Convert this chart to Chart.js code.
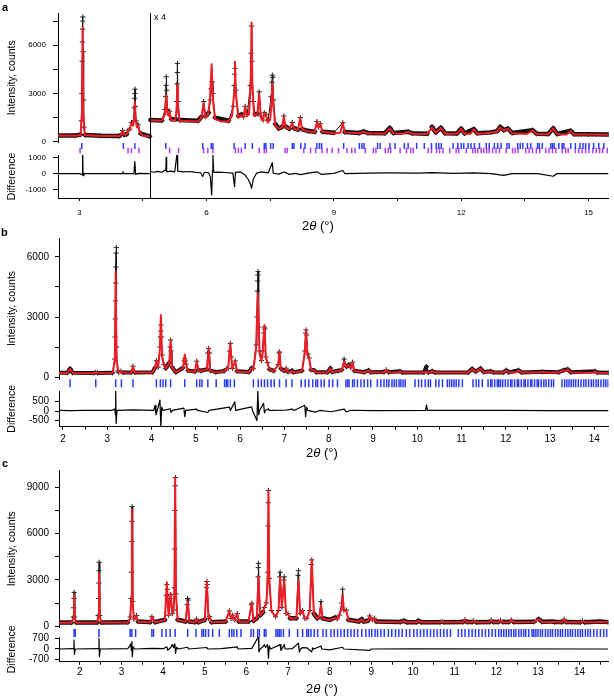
<!DOCTYPE html>
<html>
<head>
<meta charset="utf-8">
<script src="https://cdn.jsdelivr.net/npm/chart.js"></script>
<style>
  html, body { margin: 0; padding: 0; background: #fff; }
  body { width: 614px; height: 697px; position: relative; overflow: hidden;
         font-family: "Liberation Sans", Arial, Helvetica, sans-serif; color: #000; }
  .pane { position: absolute; left: 0; width: 614px; }
  .tag { position: absolute; font-weight: bold; font-size: 11px; line-height: 11px; }
  .note { position: absolute; font-size: 9px; line-height: 9px; }
  .xt { position: absolute; font-size: 13px; line-height: 14px; white-space: nowrap; transform: translateX(-50%); }
</style>
</head>
<body>
<div class="pane" style="top:0;height:240px"><canvas id="chartA"></canvas></div>
<div class="pane" style="top:228px;height:240px"><canvas id="chartB"></canvas></div>
<div class="pane" style="top:460px;height:237px"><canvas id="chartC"></canvas></div>

<div class="tag" style="left:2px;top:2px">a</div>
<div class="tag" style="left:1px;top:227px">b</div>
<div class="tag" style="left:2px;top:458px">c</div>
<div class="note" style="left:154px;top:13px">x 4</div>
<div class="xt" style="left:318px;top:219px">2<i>θ</i> (°)</div>
<div class="xt" style="left:322px;top:446px">2<i>θ</i> (°)</div>
<div class="xt" style="left:322px;top:682px">2<i>θ</i> (°)</div>

<script>
/* ---------- Panel a (right of A_SPLIT the profile is shown x4) ---------- */
const A_SPLIT = 4.67;
const A_CALC = [
  [2.50,380],[2.90,372],[3.03,420],[3.065,1800],[3.08,7080],[3.095,1800],[3.13,410],[3.50,360],[3.95,350],
  [3.99,480],[4.02,660],[4.05,430],[4.12,460],[4.15,700],[4.19,760],[4.23,1160],[4.27,1000],[4.295,1500],
  [4.31,2480],[4.325,1400],[4.36,900],[4.39,1000],[4.42,600],[4.50,380],[4.66,320],[4.67,null],
  [4.68,1340],[4.95,1300],[5.02,1700],[5.05,2900],[5.08,1700],[5.11,1600],[5.13,1860],[5.16,1340],[5.26,1320],
  [5.295,2000],[5.31,3520],[5.325,2000],[5.37,1300],[5.80,1260],[5.88,1500],[5.93,2400],[5.97,1500],[6.03,1600],
  [6.08,2600],[6.12,4810],[6.15,2600],[6.20,1400],[6.35,1250],[6.52,1250],[6.60,1600],[6.65,3000],[6.67,4970],
  [6.69,3000],[6.75,1500],[6.82,1650],[6.87,1500],[6.91,2170],[6.95,1600],[7.00,1700],[7.04,3500],[7.06,7420],
  [7.08,3500],[7.12,1600],[7.20,1700],[7.24,3000],[7.28,1500],[7.33,1300],[7.36,1780],[7.40,1660],[7.44,1200],
  [7.50,1400],[7.53,2400],[7.55,3630],[7.57,2400],[7.62,1000],[7.70,800],[7.78,900],[7.82,1550],[7.86,900],
  [7.95,780],[8.02,1140],[8.06,820],[8.15,720],[8.21,1460],[8.25,760],[8.40,640],[8.55,600],[8.60,1240],
  [8.64,900],[8.68,1100],[8.73,600],[9.00,540],[9.15,560],[9.21,1140],[9.26,580],[9.60,520],[9.70,620],
  [9.80,520],[10.20,500],[10.32,830],[10.40,520],[10.60,500],[10.75,600],[10.85,500],[11.20,480],[11.31,890],
  [11.40,560],[11.52,860],[11.62,500],[11.90,490],[12.00,800],[12.08,500],[12.22,500],[12.30,760],[12.38,500],
  [12.55,520],[12.70,560],[12.85,640],[12.92,890],[13.00,700],[13.10,800],[13.20,520],[13.55,480],[13.68,700],
  [13.78,470],[14.05,460],[14.17,830],[14.26,460],[14.48,450],[14.58,660],[14.66,450],[15.00,440],[15.47,430]
];
const A_OBS = [
  [2.50,390],[2.90,380],[3.03,440],[3.05,1300],[3.06,3000],[3.07,5000],[3.075,6200],[3.08,7000],[3.083,7500],
  [3.086,7760],[3.09,5600],[3.10,2600],[3.11,900],[3.14,420],[3.50,370],[3.95,360],[3.99,490],[4.02,700],[4.06,430],
  [4.12,470],[4.15,720],[4.19,780],[4.23,1200],[4.28,1300],[4.295,2100],[4.305,2700],[4.31,3000],[4.315,3270],
  [4.325,2200],[4.34,1300],[4.39,1050],[4.45,500],[4.66,330],[4.67,null],
  [4.68,1350],[4.95,1320],[5.02,2000],[5.035,2800],[5.045,3500],[5.05,4040],[5.06,3200],[5.08,2000],[5.13,1900],
  [5.17,1400],[5.28,1400],[5.295,2500],[5.305,3600],[5.31,4300],[5.315,4870],[5.33,2500],[5.37,1350],[5.80,1300],
  [5.88,1550],[5.93,2500],[5.98,1600],[6.05,1800],[6.09,2600],[6.11,3300],[6.13,3730],[6.15,3000],[6.20,1500],
  [6.52,1300],[6.63,2200],[6.65,3500],[6.66,4200],[6.67,4560],[6.69,3200],[6.75,1600],[6.82,1700],[6.87,1550],
  [6.91,2200],[6.96,1700],[7.03,3500],[7.05,5500],[7.06,7200],[7.07,5000],[7.10,2500],[7.14,1700],[7.20,1750],
  [7.24,3100],[7.28,1600],[7.33,1350],[7.36,1800],[7.40,1700],[7.45,1300],[7.52,2800],[7.54,3700],[7.55,4140],
  [7.56,4000],[7.58,2600],[7.62,1100],[7.70,820],[7.78,920],[7.82,1600],[7.86,950],[7.95,800],[8.02,1200],
  [8.06,840],[8.15,750],[8.21,1500],[8.25,780],[8.40,660],[8.55,620],[8.60,1260],[8.64,920],[8.68,1120],
  [8.73,620],[9.00,560],[9.21,1180],[9.26,600],[9.60,540],[9.70,640],[9.80,540],[10.20,520],[10.32,860],
  [10.40,540],[10.75,620],[10.85,520],[11.20,500],[11.31,920],[11.40,580],[11.52,880],[11.62,520],[11.90,510],
  [12.00,820],[12.08,520],[12.30,780],[12.38,520],[12.70,580],[12.85,660],[12.92,920],[13.00,720],[13.10,820],
  [13.20,540],[13.68,720],[13.78,490],[14.05,480],[14.17,840],[14.26,480],[14.58,680],[14.66,470],[15.00,460],
  [15.47,450]
];
const A_DIFF = [
  [2.50,0],[3.00,10],[3.07,-60],[3.08,1700],[3.09,-120],[3.11,0],[3.80,10],[4.01,0],[4.03,130],[4.05,0],
  [4.29,0],[4.31,760],[4.33,-40],[4.40,20],[4.66,0],[4.67,null],
  [4.68,140],[4.75,90],[4.85,150],[4.95,90],[5.04,250],[5.05,1030],[5.06,120],[5.15,160],[5.25,110],[5.31,1380],
  [5.32,160],[5.45,120],[5.60,140],[5.75,80],[5.86,60],[5.91,-180],[5.95,90],[6.05,50],[6.09,-200],[6.12,-1340],
  [6.14,200],[6.15,1180],[6.17,80],[6.30,100],[6.50,60],[6.62,40],[6.66,-820],[6.68,80],[6.80,110],[6.90,-60],
  [6.98,-350],[7.04,-700],[7.06,-920],[7.10,-350],[7.18,40],[7.30,120],[7.45,50],[7.55,690],[7.57,30],[7.70,-30],
  [7.83,110],[7.95,-40],[8.10,20],[8.21,-60],[8.40,40],[8.60,120],[8.70,-40],[9.00,20],[9.21,200],[9.26,10],
  [9.80,40],[10.30,50],[11.00,40],[11.31,70],[11.80,20],[12.30,50],[12.70,0],[13.00,-110],[13.20,10],[13.80,0],
  [14.17,-160],[14.25,0],[14.80,10],[15.47,10]
];
const A_REFL1 = [
  3.06,4.04,4.31,5.04,5.91,6.11,6.15,6.65,6.91,7.08,7.36,7.40,7.51,7.57,8.02,8.06,8.22,8.32,8.60,8.66,8.71,9.23,
  9.60,9.66,9.71,10.03,10.09,10.32,10.44,10.66,10.75,10.95,11.13,11.30,11.41,11.47,11.53,11.81,11.92,12.00,12.06,
  12.16,12.23,12.31,12.43,12.59,12.66,12.78,12.86,12.94,13.08,13.13,13.33,13.39,13.45,13.56,13.64,13.80,13.84,
  13.91,14.11,14.15,14.19,14.30,14.38,14.42,14.58,14.69,14.80,14.87,14.93,15.01,15.12,15.24,15.36
];
const A_REFL2 = [
  3.02,4.15,4.23,4.41,5.13,5.34,5.93,6.03,6.15,6.68,6.75,6.82,7.24,7.36,7.41,7.85,7.90,8.29,8.45,8.57,8.72,8.84,
  8.96,9.11,9.31,9.42,9.50,9.74,9.93,9.99,10.21,10.28,10.34,10.56,10.71,10.81,10.87,11.22,11.30,11.42,11.49,11.57,
  11.73,11.88,11.94,12.12,12.27,12.33,12.39,12.47,12.53,12.60,12.66,12.74,12.82,12.90,13.06,13.21,13.27,13.34,
  13.52,13.60,13.68,13.77,13.85,13.99,14.07,14.15,14.23,14.38,14.46,14.52,14.69,14.77,14.85,14.93,15.01,15.10,
  15.18,15.26,15.33,15.44
];
const A_XLAB = [3, 6, 9, 12, 15];
const A_XMINOR = [4.5, 7.5, 10.5, 13.5];
const A_YLAB = [0, 3000, 6000];
const A_YMINOR = [1500, 4500, 7500];
const A_DLAB = [-1000, 0, 1000];

/* ---------- Panel b ---------- */
const B_CALC = [
  [1.91,200],[2.10,200],[2.13,300],[2.16,400],[2.19,290],[2.24,200],[2.70,190],[2.74,230],[2.78,190],[3.12,200],
  [3.17,800],[3.19,5270],[3.21,800],[3.26,220],[3.31,280],[3.36,210],[3.54,220],[3.58,520],[3.62,220],[4.02,230],
  [4.08,450],[4.11,800],[4.15,480],[4.19,1400],[4.21,3100],[4.24,1000],[4.28,600],[4.32,420],[4.40,700],[4.43,1850],
  [4.46,480],[4.55,230],[4.71,450],[4.75,1130],[4.78,650],[4.82,300],[4.98,260],[5.02,770],[5.06,350],[5.12,300],
  [5.25,380],[5.29,1430],[5.32,300],[5.45,230],[5.64,290],[5.69,400],[5.73,420],[5.78,1680],[5.82,420],[5.89,770],
  [5.93,280],[6.20,240],[6.26,430],[6.30,400],[6.36,1400],[6.40,4180],[6.44,1200],[6.48,800],[6.51,1200],[6.55,2600],
  [6.58,1000],[6.62,700],[6.66,380],[6.76,300],[6.86,600],[6.89,1270],[6.92,400],[7.00,300],[7.04,420],[7.08,250],
  [7.14,240],[7.17,300],[7.20,230],[7.40,300],[7.46,1200],[7.49,2350],[7.52,1100],[7.56,900],[7.60,350],[7.68,320],
  [7.72,230],[7.98,230],[8.04,430],[8.08,240],[8.22,300],[8.30,350],[8.35,770],[8.40,500],[8.46,600],[8.50,450],
  [8.54,730],[8.58,300],[8.80,230],[8.90,320],[8.95,230],[9.25,240],[9.30,350],[9.35,230],[9.56,220],[9.61,280],
  [9.66,220],[10.15,220],[10.21,250],[10.27,220],[10.34,280],[10.40,220],[11.15,220],[11.24,400],[11.32,260],
  [11.43,420],[11.50,240],[11.66,280],[11.72,220],[11.95,220],[12.01,330],[12.07,220],[12.23,220],[12.29,330],
  [12.35,220],[12.76,220],[12.82,250],[12.88,220],[13.20,230],[13.31,330],[13.36,300],[13.40,380],[13.47,230],
  [13.96,210],[14.02,280],[14.07,210],[14.32,200]
];
const B_OBS = [
  [1.91,210],[2.10,210],[2.16,420],[2.22,210],[2.70,200],[2.74,240],[2.78,200],[3.12,210],[3.165,900],[3.175,2000],
  [3.18,2900],[3.185,3800],[3.19,4700],[3.195,5500],[3.20,6200],[3.205,6470],[3.21,1500],[3.23,300],[3.26,220],
  [3.31,290],[3.36,220],[3.54,230],[3.58,540],[3.62,230],[4.02,240],[4.08,460],[4.11,820],[4.15,490],[4.19,1500],
  [4.20,2000],[4.21,2300],[4.215,2600],[4.22,2000],[4.24,1100],[4.28,620],[4.32,430],[4.40,720],[4.42,1500],
  [4.43,1850],[4.44,1300],[4.46,500],[4.55,240],[4.71,460],[4.74,800],[4.75,910],[4.76,800],[4.78,640],[4.82,320],
  [4.98,270],[5.02,790],[5.06,360],[5.12,310],[5.25,390],[5.27,1200],[5.29,1430],[5.31,1200],[5.33,320],[5.45,240],
  [5.64,300],[5.69,420],[5.73,430],[5.76,1300],[5.78,1680],[5.80,1000],[5.83,430],[5.89,800],[5.93,290],[6.20,250],
  [6.26,450],[6.30,410],[6.36,1600],[6.38,3000],[6.39,4300],[6.395,4800],[6.40,5100],[6.405,5270],[6.42,2500],
  [6.44,1300],[6.48,820],[6.51,1300],[6.53,2200],[6.55,2500],[6.56,2400],[6.58,1000],[6.62,720],[6.66,390],
  [6.76,310],[6.86,620],[6.88,1200],[6.89,1250],[6.92,420],[7.00,310],[7.04,440],[7.08,260],[7.17,320],[7.20,240],
  [7.40,310],[7.46,1300],[7.48,2200],[7.49,2350],[7.50,2100],[7.53,1150],[7.56,950],[7.60,360],[7.68,330],
  [7.72,240],[7.98,240],[8.04,440],[8.08,250],[8.22,310],[8.30,360],[8.35,900],[8.40,520],[8.46,620],[8.50,460],
  [8.54,740],[8.58,310],[8.80,240],[8.90,330],[8.95,240],[9.25,250],[9.30,360],[9.35,240],[9.61,290],[9.66,230],
  [10.15,230],[10.21,520],[10.25,230],[10.34,290],[10.40,230],[11.15,230],[11.24,410],[11.32,270],[11.43,430],
  [11.50,250],[11.66,290],[11.72,230],[11.95,230],[12.01,340],[12.07,230],[12.29,340],[12.35,230],[12.82,260],
  [13.20,240],[13.31,340],[13.40,390],[13.47,240],[14.02,290],[14.07,220],[14.32,210]
];
const B_DIFF = [
  [1.91,30],[2.16,20],[2.50,30],[3.10,30],[3.17,100],[3.185,-200],[3.19,1200],[3.20,-650],[3.22,30],[3.58,60],
  [4.05,30],[4.08,300],[4.10,-200],[4.13,30],[4.19,580],[4.21,-830],[4.23,200],[4.26,30],[4.42,120],[4.44,-80],
  [4.47,30],[4.73,150],[4.75,-300],[4.77,30],[5.02,100],[5.04,30],[5.27,-80],[5.30,30],[5.76,200],[5.78,30],
  [5.88,480],[5.90,30],[6.26,220],[6.28,30],[6.38,-500],[6.40,1100],[6.42,-200],[6.44,30],[6.53,400],[6.55,-100],
  [6.57,30],[6.64,120],[6.66,30],[7.02,40],[7.17,100],[7.22,30],[7.46,300],[7.48,-300],[7.50,200],[7.53,30],
  [7.70,-60],[7.80,30],[8.05,-40],[8.35,100],[8.40,-50],[8.50,40],[9.00,20],[10.19,30],[10.21,320],[10.23,30],
  [11.00,30],[12.00,30],[13.00,20],[14.32,20]
];
const B_REFL = [
  2.16,2.74,3.19,3.32,3.58,4.11,4.20,4.26,4.32,4.43,4.75,5.02,5.09,5.14,5.27,5.46,5.65,5.69,5.72,5.78,5.87,6.30,
  6.41,6.48,6.55,6.62,6.70,6.77,6.89,7.04,7.17,7.38,7.47,7.55,7.64,7.71,7.75,7.83,7.90,8.01,8.09,8.20,8.39,8.43,
  8.46,8.54,8.58,8.65,8.73,8.80,8.88,8.95,9.10,9.18,9.25,9.31,9.36,9.43,9.48,9.53,9.59,9.63,9.68,9.73,9.95,10.03,
  10.10,10.18,10.25,10.30,10.42,10.49,10.57,10.68,10.73,10.78,10.83,10.88,10.94,11.02,11.26,11.33,11.39,11.47,
  11.60,11.66,11.69,11.75,11.81,11.84,11.88,11.93,11.99,12.05,12.11,12.14,12.20,12.26,12.29,12.35,12.41,12.44,
  12.50,12.56,12.59,12.65,12.71,12.74,12.80,12.86,12.91,12.97,13.03,13.08,13.27,13.33,13.38,13.43,13.48,13.53,
  13.58,13.64,13.70,13.76,13.81,13.87,13.93,13.98,14.04,14.09,14.15,14.21,14.26,14.31
];
const B_XLAB = [2, 3, 4, 5, 6, 7, 8, 9, 10, 11, 12, 13, 14];
const B_XMINOR = [2.5, 3.5, 4.5, 5.5, 6.5, 7.5, 8.5, 9.5, 10.5, 11.5, 12.5, 13.5];
const B_YLAB = [0, 3000, 6000];
const B_YMINOR = [1500, 4500];
const B_DLAB = [-500, 0, 500];

/* ---------- Panel c ---------- */
const C_CALC = [
  [1.50,230],[1.80,230],[1.84,500],[1.86,2030],[1.88,500],[1.92,230],[2.42,240],[2.44,600],[2.46,3430],[2.48,600],
  [2.52,240],[3.15,250],[3.21,500],[3.23,1500],[3.25,7540],[3.27,1500],[3.30,450],[3.36,670],[3.40,300],[3.69,260],
  [3.73,600],[3.77,400],[3.81,260],[4.04,400],[4.09,2850],[4.13,700],[4.18,2140],[4.22,800],[4.25,1000],[4.27,2000],
  [4.29,9630],[4.31,2000],[4.35,400],[4.54,300],[4.59,1600],[4.63,300],[4.76,260],[4.80,450],[4.85,260],[5.00,400],
  [5.05,2890],[5.09,500],[5.12,600],[5.16,260],[5.50,300],[5.59,990],[5.63,500],[5.67,700],[5.72,400],[5.78,800],
  [5.82,300],[6.05,300],[6.13,1490],[6.17,350],[6.25,500],[6.29,3210],[6.33,700],[6.40,900],[6.43,1200],[6.48,1500],
  [6.51,3000],[6.53,8790],[6.55,3000],[6.60,1000],[6.70,600],[6.77,1000],[6.81,3210],[6.85,1200],[6.91,3000],
  [6.95,800],[7.00,800],[7.05,500],[7.20,500],[7.25,3000],[7.29,800],[7.35,1000],[7.40,500],[7.45,500],[7.52,1000],
  [7.57,4300],[7.62,800],[7.70,500],[7.75,600],[7.79,1380],[7.83,500],[8.00,400],[8.13,550],[8.18,450],[8.23,700],
  [8.29,1200],[8.31,2030],[8.34,1000],[8.40,1000],[8.45,400],[8.70,300],[8.77,450],[8.82,300],[8.92,350],[8.96,650],
  [9.02,400],[9.07,500],[9.12,300],[9.70,270],[9.78,350],[9.85,260],[10.08,260],[10.13,350],[10.20,260],[10.65,260],
  [10.70,300],[10.75,260],[11.20,270],[11.25,420],[11.30,270],[11.42,270],[11.46,350],[11.52,260],[11.83,270],
  [11.88,400],[11.93,270],[12.05,270],[12.10,380],[12.16,270],[12.30,270],[12.36,400],[12.42,270],[12.90,280],
  [12.96,380],[13.02,450],[13.10,280],[13.30,270],[13.35,300],[13.40,270],[13.58,270],[13.63,450],[13.68,270],
  [14.02,260],[14.07,350],[14.12,260],[14.45,260],[14.49,300],[14.53,260],[14.69,260]
];
const C_OBS = [
  [1.50,240],[1.80,240],[1.84,600],[1.85,1200],[1.86,1800],[1.865,2200],[1.88,600],[1.92,240],[2.42,250],[2.44,700],
  [2.45,1800],[2.455,2800],[2.46,3600],[2.465,4150],[2.48,700],[2.52,250],[3.15,260],[3.21,600],[3.23,1800],
  [3.24,3500],[3.245,5500],[3.25,6800],[3.255,7750],[3.27,1600],[3.30,460],[3.36,700],[3.40,310],[3.69,270],
  [3.73,620],[3.77,410],[3.81,270],[4.04,420],[4.08,2000],[4.09,2700],[4.10,2400],[4.13,720],[4.17,1800],[4.18,2050],
  [4.22,820],[4.25,1050],[4.27,2500],[4.28,5000],[4.285,7500],[4.29,9100],[4.295,9630],[4.31,2100],[4.35,420],
  [4.54,310],[4.58,1400],[4.59,1800],[4.60,1700],[4.63,310],[4.76,270],[4.80,470],[4.85,270],[5.00,420],[5.04,2500],
  [5.05,2900],[5.06,2700],[5.09,520],[5.12,620],[5.16,270],[5.50,310],[5.59,1000],[5.63,510],[5.67,720],[5.72,410],
  [5.78,820],[5.82,310],[6.05,310],[6.12,1400],[6.13,1500],[6.17,360],[6.25,520],[6.28,3200],[6.285,3800],
  [6.29,4080],[6.33,720],[6.40,920],[6.43,1220],[6.48,1520],[6.51,3500],[6.52,6500],[6.525,8000],[6.53,8800],
  [6.55,3100],[6.60,1020],[6.70,620],[6.77,1020],[6.80,3200],[6.81,3500],[6.85,1220],[6.90,3000],[6.91,3200],
  [6.95,820],[7.00,820],[7.05,520],[7.20,520],[7.24,3300],[7.25,3600],[7.29,820],[7.35,1020],[7.40,520],[7.45,520],
  [7.52,1020],[7.56,4000],[7.57,4300],[7.62,820],[7.70,520],[7.75,620],[7.79,1600],[7.83,520],[8.00,420],[8.13,570],
  [8.18,470],[8.23,720],[8.29,1500],[8.31,2400],[8.34,1050],[8.40,1050],[8.45,420],[8.70,310],[8.77,470],[8.82,310],
  [8.92,360],[8.96,670],[9.02,420],[9.07,520],[9.12,310],[9.70,280],[9.78,360],[9.85,270],[10.08,270],[10.13,360],
  [10.20,270],[10.65,270],[10.70,310],[10.75,270],[11.20,280],[11.25,430],[11.30,280],[11.42,280],[11.46,360],
  [11.52,270],[11.83,280],[11.88,410],[11.93,280],[12.05,280],[12.10,390],[12.16,280],[12.30,280],[12.36,410],
  [12.42,280],[12.90,290],[12.96,390],[13.02,460],[13.10,290],[13.35,310],[13.40,280],[13.58,280],[13.63,460],
  [13.68,280],[14.02,270],[14.07,360],[14.12,270],[14.49,310],[14.69,270]
];
const C_DIFF = [
  [1.50,0],[1.84,30],[1.86,610],[1.87,-360],[1.89,0],[2.44,30],[2.46,730],[2.47,-520],[2.49,0],[3.15,20],[3.20,200],
  [3.22,350],[3.24,-100],[3.25,500],[3.26,-520],[3.28,150],[3.32,0],[3.73,40],[4.00,20],[4.09,150],[4.11,-80],
  [4.18,80],[4.22,300],[4.25,100],[4.28,350],[4.30,-300],[4.32,120],[4.36,0],[4.59,120],[4.61,0],[5.05,100],
  [5.07,0],[5.40,20],[5.78,150],[5.80,0],[6.13,40],[6.29,840],[6.30,-200],[6.33,0],[6.40,150],[6.43,300],[6.46,100],
  [6.51,300],[6.53,-630],[6.55,200],[6.58,0],[6.81,300],[6.83,-100],[6.91,300],[6.93,0],[7.10,20],[7.25,400],
  [7.27,-200],[7.30,0],[7.35,100],[7.45,80],[7.57,-200],[7.59,80],[7.62,0],[7.79,200],[7.81,0],[8.00,-60],[8.31,120],
  [8.34,0],[8.96,-100],[9.00,0],[10.00,10],[14.69,0]
];
const C_REFL = [
  1.86,1.89,2.46,3.21,3.25,3.34,3.73,3.77,3.97,4.07,4.17,4.29,4.59,4.79,4.93,4.97,5.02,5.09,5.19,5.35,5.59,5.65,
  5.70,5.77,5.87,6.11,6.17,6.27,6.31,6.43,6.47,6.71,6.75,6.79,6.83,6.89,7.03,7.23,7.35,7.45,7.49,7.55,7.63,7.71,
  7.84,7.92,8.03,8.11,8.19,8.27,8.35,8.43,8.51,8.59,8.67,8.77,8.87,8.95,9.01,9.09,9.15,9.23,9.31,9.41,9.49,9.58,
  9.66,9.74,9.84,9.92,10.02,10.10,10.18,10.26,10.34,10.42,10.50,10.58,10.66,10.74,10.82,10.90,11.09,11.17,11.25,
  11.34,11.42,11.50,11.58,11.66,11.74,11.82,11.90,11.98,12.06,12.12,12.18,12.24,12.30,12.36,12.42,12.47,12.54,
  12.60,12.66,12.71,12.78,12.86,12.90,12.95,13.00,13.06,13.11,13.18,13.24,13.30,13.35,13.42,13.48,13.54,13.59,
  13.66,13.72,13.78,13.83,13.90,13.96,14.02,14.07,14.14,14.20,14.26,14.34,14.42,14.50,14.58,14.65
];
const C_XLAB = [2, 3, 4, 5, 6, 7, 8, 9, 10, 11, 12, 13, 14];
const C_XMINOR = [2.5, 3.5, 4.5, 5.5, 6.5, 7.5, 8.5, 9.5, 10.5, 11.5, 12.5, 13.5, 14.5];
const C_YLAB = [0, 3000, 6000, 9000];
const C_YMINOR = [1500, 4500, 7500];
const C_DLAB = [-700, 0, 700];

const RED = "#ee1c24";
const BLUE = "#2a3cf5";
const MAGENTA = "#b43cf0";

Chart.defaults.font.family = '"Liberation Sans", Arial, Helvetica, sans-serif';
Chart.defaults.color = "#000";

const toXY = (pts) => pts.map((p) => ({ x: p[0], y: p[1] }));

// Linie an der Stelle, ab der das Profil vierfach vergrößert ist
const splitLine = {
  id: "splitLine",
  afterDatasetsDraw(chart, args, opts) {
    if (opts.at == null) return;
    const { ctx, chartArea, scales } = chart;
    const px = Math.round(scales.x.getPixelForValue(opts.at)) + 0.5;
    ctx.save();
    ctx.strokeStyle = "#000";
    ctx.lineWidth = 1;
    ctx.beginPath();
    ctx.moveTo(px, chartArea.top);
    ctx.lineTo(px, chartArea.bottom);
    ctx.stroke();
    ctx.restore();
  },
};

function yAxis(o, width) {
  const shown = !!o.labels;
  return {
    type: "linear", position: "left", stack: "p", stackWeight: o.h, weight: o.w,
    min: o.min, max: o.max,
    border: { display: shown, color: "#000", width: 1 },
    grid: { display: shown, drawOnChartArea: false, drawTicks: true, tickLength: o.tl || 4, color: "#000" },
    ticks: {
      display: shown, autoSkip: false, color: "#000",
      font: { size: o.fs || 10 }, padding: o.pad || 5,
      callback: (v) => (shown && o.labels.includes(v) ? String(v) : ""),
    },
    title: o.title
      ? { display: true, text: o.title, color: "#000", font: { size: 10.5 }, padding: { top: 6, bottom: 0 } }
      : { display: false },
    afterBuildTicks: (s) => {
      if (shown) s.ticks = o.labels.concat(o.minor || []).sort((a, b) => a - b).map((v) => ({ value: v }));
    },
    afterFit: (s) => {
      s.width = width;
      s.paddingTop = 0;
      s.paddingBottom = 0;
    },
  };
}

function buildPanel(id, P) {
  // Untergrund als breites Band, Peakflanken und -spitzen nur dünn
  const obsWidth = (c) =>
    Math.abs(c.p1.y - c.p0.y) > 6 || Math.abs(c.p1.x - c.p0.x) < 2.5 ? 1 : P.band;
  const datasets = [
    { data: toXY(P.calc), yAxisID: "yI", showLine: true, borderColor: RED, borderWidth: 2,
      borderJoinStyle: "round", pointRadius: 0, order: 0 },
    { data: toXY(P.obs), yAxisID: "yI", showLine: true, borderColor: "#111", borderWidth: P.band,
      borderJoinStyle: "round", borderCapStyle: "round", segment: { borderWidth: obsWidth },
      pointStyle: "cross", pointRadius: 2.6, pointBorderColor: "#222", pointBorderWidth: 1, order: 1 },
    { data: toXY(P.diff), yAxisID: "yD", showLine: true, borderColor: "#000", borderWidth: 1.2,
      borderJoinStyle: "round", pointRadius: 0, order: 1 },
  ];
  P.refl.forEach((r) => {
    datasets.push({
      data: r.pos.map((x) => ({ x: x, y: r.row })), yAxisID: "yR", showLine: false,
      pointStyle: "line", pointRotation: 90, pointRadius: r.len,
      pointBorderColor: r.color, pointBorderWidth: 1.5, order: 2,
    });
  });

  const xs = P.x;
  return new Chart(document.getElementById(id), {
    type: "scatter",
    data: { datasets },
    plugins: P.split != null ? [splitLine] : [],
    options: {
      responsive: true, maintainAspectRatio: false, animation: false, events: [],
      layout: { padding: P.padding },
      plugins: { legend: { display: false }, tooltip: { enabled: false }, splitLine: { at: P.split } },
      scales: {
        x: {
          type: "linear", position: "bottom", min: xs.min, max: xs.max,
          border: { display: true, color: "#000", width: 1 },
          grid: { drawOnChartArea: false, drawTicks: true, tickLength: 3, color: "#000" },
          ticks: {
            autoSkip: false, maxRotation: 0, color: "#000", font: { size: xs.fs }, padding: xs.pad,
            callback: (v) => (xs.labels.includes(v) ? String(v) : ""),
          },
          afterBuildTicks: (s) => {
            s.ticks = xs.labels.concat(xs.minor).sort((a, b) => a - b).map((v) => ({ value: v }));
          },
          afterFit: (s) => {
            s.height = 20;
            s.paddingLeft = 0;
            s.paddingRight = 0;
          },
        },
        yI: yAxis(P.yI, P.yw),
        yR: yAxis(P.yR, P.yw),
        yD: yAxis(P.yD, P.yw),
      },
    },
  });
}

buildPanel("chartA", {
  calc: A_CALC, obs: A_OBS, diff: A_DIFF, band: 4.5, split: A_SPLIT, yw: 58,
  refl: [
    { pos: A_REFL1, row: 0.73, len: 3, color: BLUE },
    { pos: A_REFL2, row: 0.36, len: 2.8, color: MAGENTA },
  ],
  x: { min: 2.5, max: 15.47, labels: A_XLAB, minor: A_XMINOR, fs: 8, pad: 7 },
  yI: { min: -56, max: 8004, h: 129.6, w: 3, labels: A_YLAB, minor: A_YMINOR, fs: 8, pad: 7, tl: 5,
        title: "Intensity, counts" },
  yR: { min: 0, max: 1, h: 12.4, w: 2 },
  yD: { min: -1528, max: 1176, h: 43, w: 1, labels: A_DLAB, fs: 8, pad: 7, tl: 5, title: "Difference" },
  padding: { left: 0, right: 2, top: 13, bottom: 22 },
});

buildPanel("chartB", {
  calc: B_CALC, obs: B_OBS, diff: B_DIFF, band: 4, yw: 59,
  refl: [{ pos: B_REFL, row: 0.64, len: 4, color: BLUE }],
  x: { min: 1.91, max: 14.32, labels: B_XLAB, minor: B_XMINOR, fs: 10, pad: 4 },
  yI: { min: -100, max: 6950, h: 141, w: 3, labels: B_YLAB, minor: B_YMINOR, fs: 10, pad: 6,
        title: "Intensity, counts" },
  yR: { min: 0, max: 1, h: 12, w: 2 },
  yD: { min: -826, max: 1053, h: 35.7, w: 1, labels: B_DLAB, fs: 10, pad: 6, title: "Difference" },
  padding: { left: 0, right: 4, top: 10, bottom: 21.3 },
});

buildPanel("chartC", {
  calc: C_CALC, obs: C_OBS, diff: C_DIFF, band: 4.5, yw: 59,
  refl: [{ pos: C_REFL, row: 0.39, len: 4.2, color: BLUE }],
  x: { min: 1.5, max: 14.69, labels: C_XLAB, minor: C_XMINOR, fs: 10, pad: 2 },
  yI: { min: -78, max: 10123, h: 157.5, w: 3, labels: C_YLAB, minor: C_YMINOR, fs: 10, pad: 6,
        title: "Intensity, counts" },
  yR: { min: 0, max: 1, h: 9.5, w: 2 },
  yD: { min: -864, max: 816, h: 24.7, w: 1, labels: C_DLAB, fs: 10, pad: 6, title: "Difference" },
  padding: { left: 0, right: 4, top: 10, bottom: 15.3 },
});
</script>
</body>
</html>
